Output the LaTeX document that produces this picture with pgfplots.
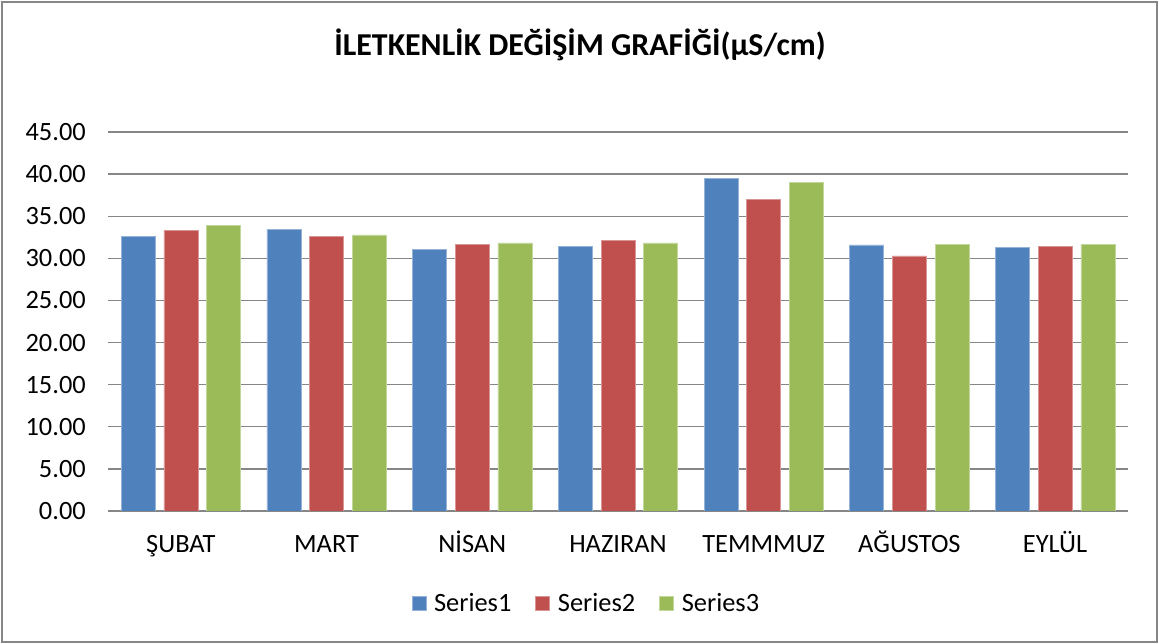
\documentclass[border=0pt]{standalone}
\usepackage{fontspec}
\setmainfont{Carlito}
\usepackage{pgfplots}
\pgfplotsset{compat=1.18}
\definecolor{sA}{HTML}{4F81BD}
\definecolor{sB}{HTML}{C0504D}
\definecolor{sC}{HTML}{9BBB59}
\definecolor{gridc}{HTML}{868686}
\begin{document}
\begin{tikzpicture}[x=1bp,y=1bp]
\useasboundingbox (0,0) rectangle (1159,644);
\draw[color=gridc, line width=1.5bp] (2,2) rectangle (1157,642);
\node[font=\fontsize{32}{36}\selectfont\bfseries] at (580,599) {İLETKENLİK DEĞİŞİM GRAFİĞİ(µS/cm)};
\begin{axis}[
  at={(108bp,133bp)}, anchor=south west,
  scale only axis, width=1020bp, height=379bp,
  xmin=-0.5, xmax=6.5, ymin=0, ymax=45,
  ytick={0,5,...,45},
  xtick={0,...,6},
  xticklabels={ŞUBAT,MART,NİSAN,HAZIRAN,TEMMMUZ,AĞUSTOS,EYLÜL},
  ymajorgrids, grid style={color=gridc, line width=1.3bp},
  axis line style={draw=none},
  major tick length=0pt,
  /pgf/number format/assume math mode=true,
  yticklabel={\pgfmathprintnumber[fixed,fixed zerofill,precision=2]{\tick}},
  tick label style={font=\fontsize{26.5}{31}\selectfont},
  yticklabel style={anchor=east, inner sep=0pt, xshift=-22bp},
  xticklabel style={anchor=base, inner sep=0pt, yshift=-42bp},
  bar width=0.233,
  legend columns=-1,
  legend style={at={(0.469,-0.243)}, anchor=center, draw=none, fill=none,
    font=\fontsize{26.5}{31}\selectfont,
    /tikz/every odd column/.append style={column sep=6bp},
    /tikz/every even column/.append style={column sep=22bp}},
  legend image code/.code={\fill[#1] (0bp,-7bp) rectangle (14bp,7bp);},
]
\addplot[ybar, bar shift=-0.293, fill=sA, draw=sA!60!white, line width=0.5bp] coordinates {(0,32.60) (1,33.40) (2,31.03) (3,31.39) (4,39.47) (5,31.59) (6,31.27)};
\addplot[ybar, bar shift=0, fill=sB, draw=sB!60!white, line width=0.5bp] coordinates {(0,33.29) (1,32.60) (2,31.70) (3,32.10) (4,36.97) (5,30.28) (6,31.39)};
\addplot[ybar, bar shift=0.293, fill=sC, draw=sC!60!white, line width=0.5bp] coordinates {(0,33.88) (1,32.78) (2,31.83) (3,31.83) (4,38.99) (5,31.66) (6,31.66)};
\legend{Series1,Series2,Series3}
\end{axis}
\end{tikzpicture}
\end{document}
